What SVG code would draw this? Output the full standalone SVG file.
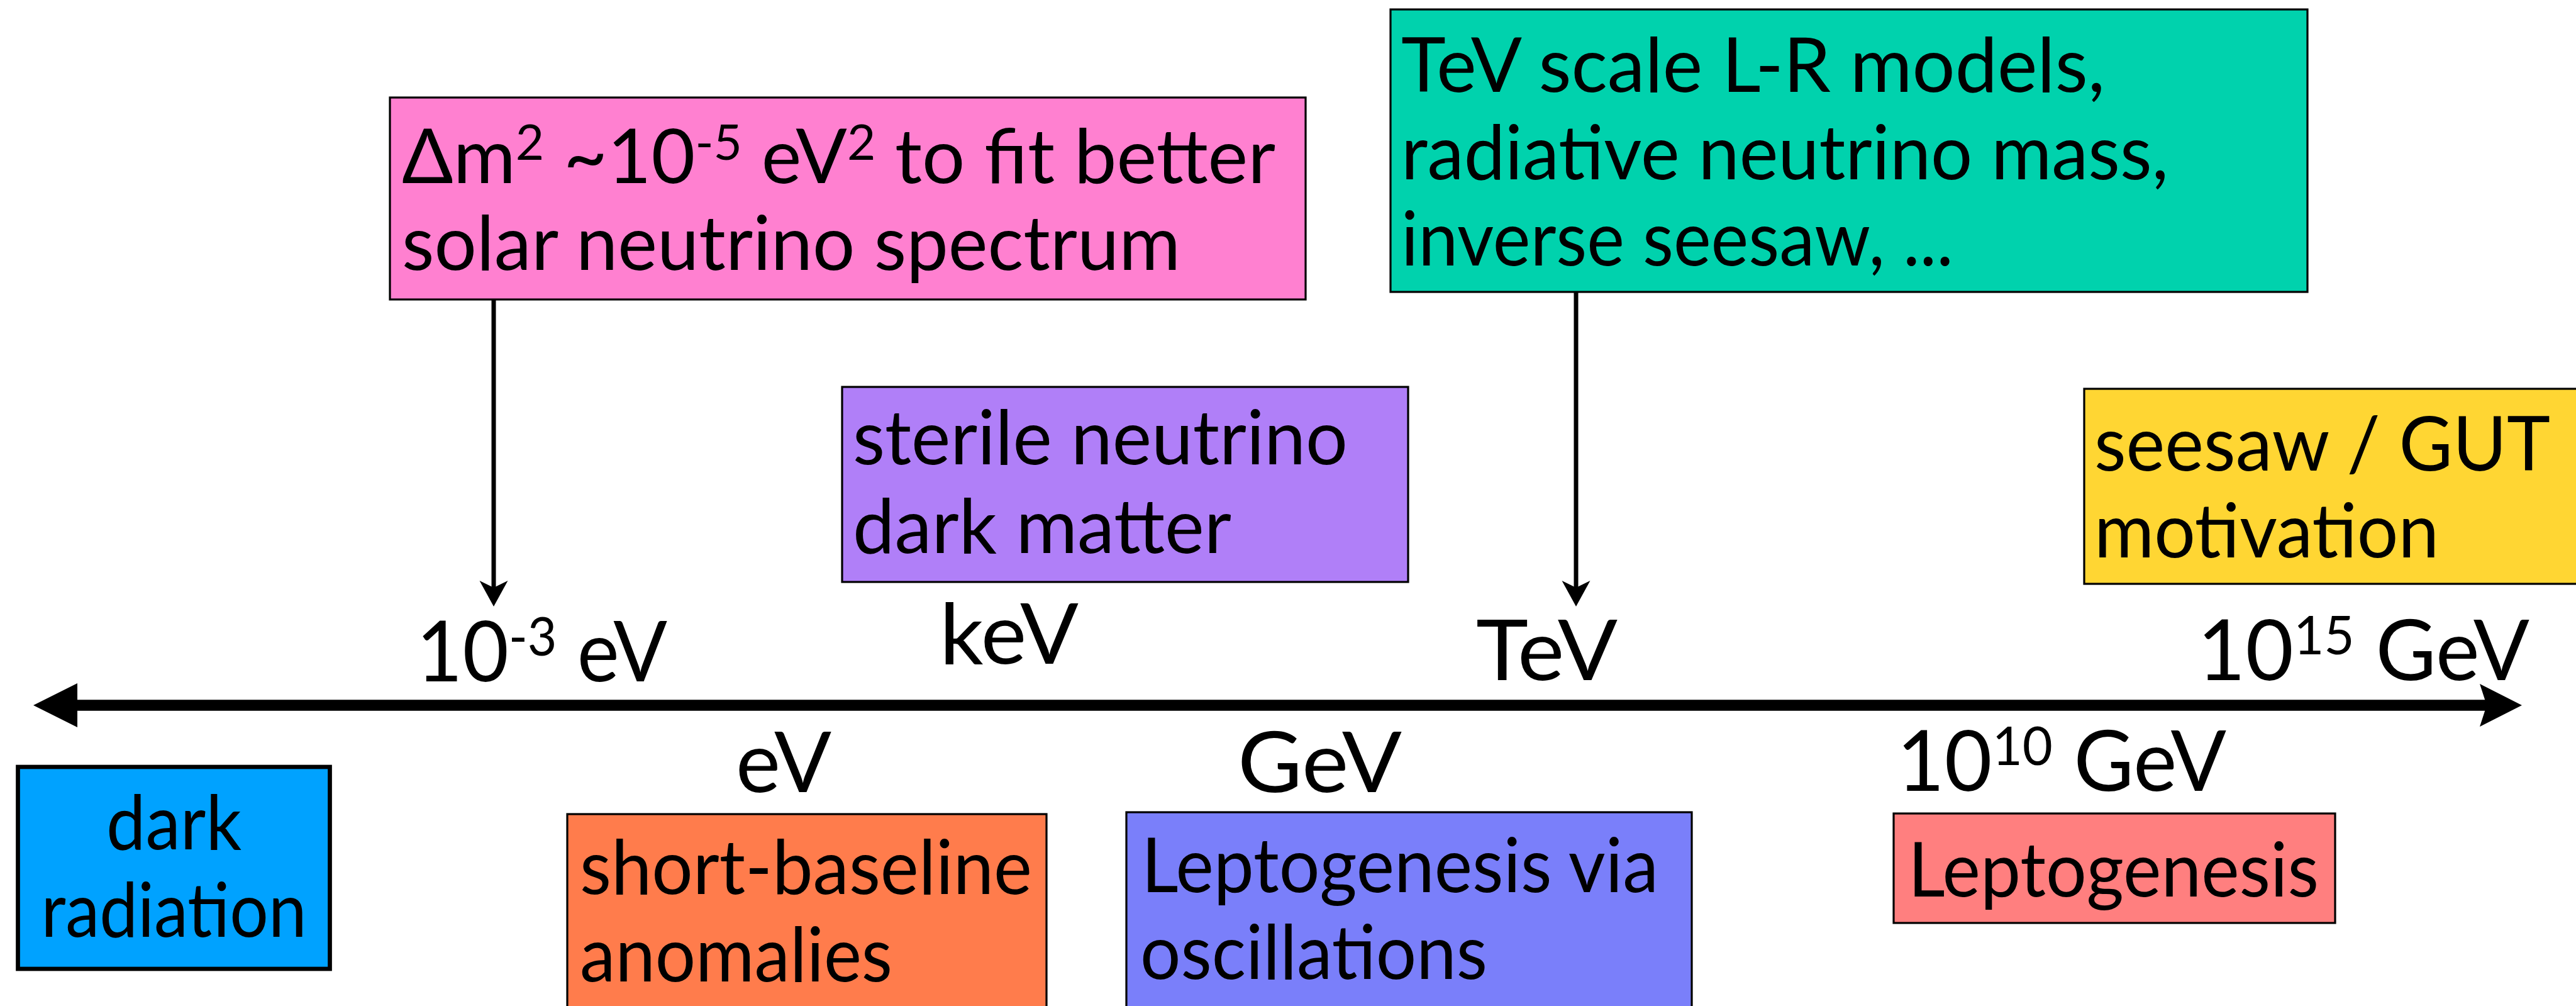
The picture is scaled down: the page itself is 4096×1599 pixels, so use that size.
<svg xmlns="http://www.w3.org/2000/svg" width="4096" height="1599" viewBox="0 0 4096 1599">
  <style>
    .box { stroke: #000; stroke-width: 3.2; }
    .thick { stroke-width: 6.7; }
    .t { font-family: Lato, "Open Sans", "Liberation Sans", sans-serif; font-size: 120px; fill: #000; }
    .ax { font-family: Lato, "Open Sans", "Liberation Sans", sans-serif; font-size: 134px; fill: #000; }
    .sup { font-size: 78px; }
    .axsup { font-size: 85px; }
    .conn { stroke: #000; stroke-width: 7; fill: none; }
    .axis { stroke: #000; stroke-width: 17.4; fill: none; }
  </style>
  <defs>
    <!-- notched head for the callout arrows -->
    <marker id="callHead" viewBox="-15 -25 50 50" markerWidth="50" markerHeight="50" refX="0" refY="0" markerUnits="userSpaceOnUse" orient="auto">
      <path d="M30,0 L-11,-22.5 L0,0 L-11,22.5 Z" fill="#000"/>
    </marker>
    <!-- plain triangle at the low-energy end of the axis -->
    <marker id="axisStart" viewBox="-75 -40 80 80" markerWidth="80" markerHeight="80" refX="0" refY="0" markerUnits="userSpaceOnUse" orient="auto">
      <path d="M-70,0 L0,-35 L0,35 Z" fill="#000"/>
    </marker>
    <!-- notched head at the high-energy end of the axis -->
    <marker id="axisEnd" viewBox="-15 -40 80 80" markerWidth="80" markerHeight="80" refX="0" refY="0" markerUnits="userSpaceOnUse" orient="auto">
      <path d="M56,0 L-11,-34 L0,0 L-11,34 Z" fill="#000"/>
    </marker>
  </defs>

  <rect width="4096" height="1599" fill="#fff"/>

  <!-- energy axis -->
  <g id="axis">
    <line class="axis" x1="123" y1="1121" x2="3954" y2="1121" marker-start="url(#axisStart)" marker-end="url(#axisEnd)"/>
  </g>

  <!-- scale labels above and below the axis -->
  <g id="scale-labels">
    <text class="ax" x="662" y="1083" textLength="399" lengthAdjust="spacingAndGlyphs">10<tspan class="axsup" dy="-41">-3</tspan><tspan dy="41"> eV</tspan></text>
    <text class="ax" x="1494" y="1055" textLength="221" lengthAdjust="spacingAndGlyphs">keV</text>
    <text class="ax" x="2347" y="1081" textLength="225" lengthAdjust="spacingAndGlyphs">TeV</text>
    <text class="ax" x="3494" y="1081" textLength="528" lengthAdjust="spacingAndGlyphs">10<tspan class="axsup" dy="-41">15</tspan><tspan dy="41"> GeV</tspan></text>
    <text class="ax" x="1170" y="1259" textLength="152" lengthAdjust="spacingAndGlyphs">eV</text>
    <text class="ax" x="1968" y="1259" textLength="261" lengthAdjust="spacingAndGlyphs">GeV</text>
    <text class="ax" x="3016" y="1257" textLength="524" lengthAdjust="spacingAndGlyphs">10<tspan class="axsup" dy="-41">10</tspan><tspan dy="41"> GeV</tspan></text>
  </g>

  <!-- callout arrows from the upper boxes to the axis -->
  <g id="connectors">
    <line class="conn" x1="785" y1="477" x2="785" y2="934" marker-end="url(#callHead)"/>
    <line class="conn" x1="2506" y1="465" x2="2506" y2="934" marker-end="url(#callHead)"/>
  </g>

  <g id="solar-spectrum">
    <rect class="box" x="620" y="155" width="1456" height="321" fill="#FF80D0"/>
    <text class="t" x="639" y="291" textLength="1389" lengthAdjust="spacingAndGlyphs">Δm<tspan class="sup" dy="-37">2</tspan><tspan dy="37"> ~10</tspan><tspan class="sup" dy="-37">-5</tspan><tspan dy="37"> eV</tspan><tspan class="sup" dy="-37">2</tspan><tspan dy="37"> to fit better</tspan></text>
    <text class="t" x="639" y="429" textLength="1238" lengthAdjust="spacingAndGlyphs">solar neutrino spectrum</text>
  </g>

  <g id="tev-models">
    <rect class="box" x="2211" y="15" width="1458" height="449" fill="#00D2AD"/>
    <text class="t" x="2228" y="146" textLength="1119" lengthAdjust="spacingAndGlyphs">TeV scale L-R models,</text>
    <text class="t" x="2228" y="285" textLength="1220" lengthAdjust="spacingAndGlyphs">radiative neutrino mass,</text>
    <text class="t" x="2228" y="422" textLength="878" lengthAdjust="spacingAndGlyphs">inverse seesaw, ...</text>
  </g>

  <g id="sterile-dm">
    <rect class="box" x="1339" y="615" width="900" height="310" fill="#B07FF8"/>
    <text class="t" x="1356" y="738" textLength="787" lengthAdjust="spacingAndGlyphs">sterile neutrino</text>
    <text class="t" x="1356" y="879" textLength="602" lengthAdjust="spacingAndGlyphs">dark matter</text>
  </g>

  <g id="seesaw-gut">
    <rect class="box" x="3314" y="618" width="800" height="310" fill="#FFD633"/>
    <text class="t" x="3330" y="748" textLength="725" lengthAdjust="spacingAndGlyphs">seesaw / GUT</text>
    <text class="t" x="3330" y="886" textLength="548" lengthAdjust="spacingAndGlyphs">motivation</text>
  </g>

  <g id="dark-radiation">
    <rect class="box thick" x="28.5" y="1219" width="496" height="321" fill="#00A2FF"/>
    <text class="t" x="276.5" y="1350" text-anchor="middle" textLength="215" lengthAdjust="spacingAndGlyphs">dark</text>
    <text class="t" x="276.5" y="1489" text-anchor="middle" textLength="422" lengthAdjust="spacingAndGlyphs">radiation</text>
  </g>

  <g id="short-baseline">
    <rect class="box" x="902" y="1294" width="762" height="330" fill="#FF7C4C"/>
    <text class="t" x="922" y="1421" textLength="719" lengthAdjust="spacingAndGlyphs">short-baseline</text>
    <text class="t" x="922" y="1560" textLength="497" lengthAdjust="spacingAndGlyphs">anomalies</text>
  </g>

  <g id="lepto-oscillations">
    <rect class="box" x="1791" y="1291" width="899" height="330" fill="#7A7FFA"/>
    <text class="t" x="1815" y="1418" textLength="822" lengthAdjust="spacingAndGlyphs">Leptogenesis via</text>
    <text class="t" x="1813" y="1556" textLength="552" lengthAdjust="spacingAndGlyphs">oscillations</text>
  </g>

  <g id="leptogenesis">
    <rect class="box" x="3011" y="1293" width="702" height="174" fill="#FF7F7F"/>
    <text class="t" x="3034" y="1425" textLength="653" lengthAdjust="spacingAndGlyphs">Leptogenesis</text>
  </g>
</svg>
